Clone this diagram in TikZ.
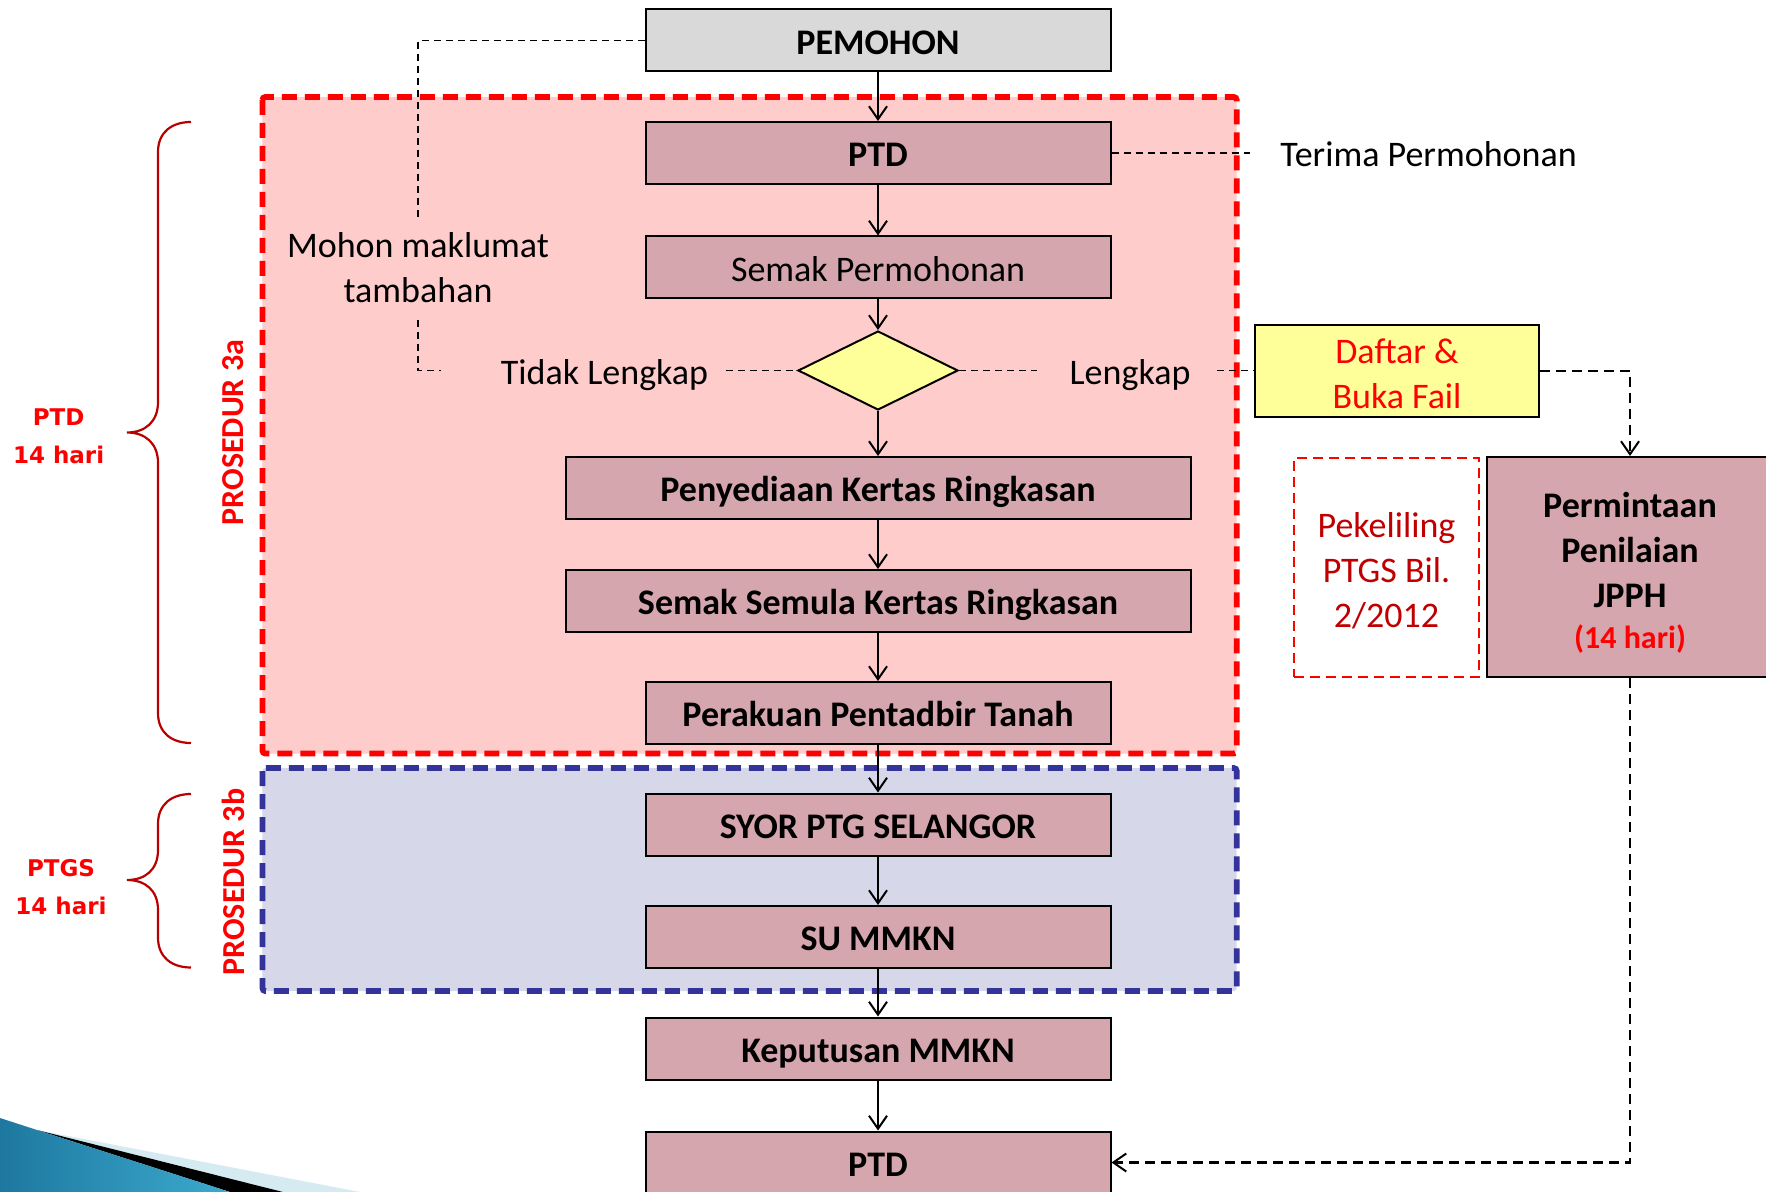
\documentclass[tikz,border=0pt]{standalone}
\usepackage{fontspec}
\setmainfont{Carlito}
\newfontfamily\vfont{DejaVu Sans}
\usetikzlibrary{arrows.meta,shapes.geometric}
\definecolor{boxfill}{RGB}{213,166,173}
\definecolor{pemfill}{RGB}{217,217,217}
\definecolor{yelfill}{RGB}{255,255,153}
\definecolor{pinkbg}{RGB}{255,204,204}
\definecolor{lavbg}{RGB}{214,216,234}
\definecolor{blueline}{RGB}{51,51,153}
\definecolor{darkred}{RGB}{192,0,0}
\definecolor{bracecol}{RGB}{185,0,0}
\definecolor{decoA}{RGB}{30,120,160}
\definecolor{decoB}{RGB}{60,170,205}
\definecolor{decoL}{RGB}{214,234,242}
\begin{document}
\begin{tikzpicture}[x=0.5pt,y=-0.5pt,
  oneline/.style={text height=15.5pt, text depth=1.8pt},
  box/.style={draw=black, line width=1pt, fill=boxfill, inner sep=0pt,
    minimum height=31pt, text=black, font=\fontsize{18}{22.5}\selectfont\bfseries},
  mainw/.style={minimum width=232.5pt, oneline},
  widew/.style={minimum width=312.5pt, oneline},
  lbl/.style={inner sep=0pt, font=\fontsize{18}{22.5}\selectfont, align=center},
  arr/.style={line width=1pt, -{Straight Barb[length=6.5pt,width=9pt,line width=1pt]}},
  dline/.style={line width=0.85pt, dash pattern=on 3.5pt off 2.5pt},
  darr/.style={line width=1.2pt, dash pattern=on 5pt off 3pt,
    -{Straight Barb[length=6.5pt,width=9pt,line width=1pt]}},
  regred/.style={draw=red, fill=pinkbg, line width=2.9pt, dash pattern=on 7.5pt off 4pt, rounded corners=1.5pt},
  regblue/.style={draw=blueline, fill=lavbg, line width=2.9pt, dash pattern=on 7.5pt off 4pt, rounded corners=1.5pt},
  bracestyle/.style={draw=bracecol, line width=1.1pt},
  sidelbl/.style={inner sep=0pt, align=center, text=red, font=\vfont\fontsize{11.5}{19}\selectfont\bfseries},
  proslbl/.style={inner sep=0pt, rotate=90, text=red, font=\fontsize{16}{19}\selectfont\bfseries}
]
\useasboundingbox (0,0) rectangle (1766,1192);

% decoration bottom-left
\fill[decoL] (37,1130) -- (360,1192) -- (283,1192) -- cycle;
\fill[black] (37,1130) -- (283,1192) -- (230,1192) -- cycle;
\shade[left color=decoA, right color=decoB] (0,1118) -- (37,1130) -- (230,1192) -- (0,1192) -- cycle;

% regions
\path[regred] (262.4,97) rectangle (1236.7,753.5);
\path[regblue] (262.4,768) rectangle (1236.7,991);

% braces
\draw[bracestyle] (191,122) .. controls (172,122) and (158,132) .. (158,152) -- (158,402)
  .. controls (158,422) and (145,432.5) .. (127,432.5)
  .. controls (145,432.5) and (158,443) .. (158,463) -- (158,713)
  .. controls (158,733) and (172,743) .. (191,743);
\draw[bracestyle] (191,794) .. controls (172,794) and (158,804) .. (158,824) -- (158,850)
  .. controls (158,870) and (145,880) .. (127,880)
  .. controls (145,880) and (158,890) .. (158,910) -- (158,937.5)
  .. controls (158,957.5) and (172,967.5) .. (191,967.5);

\node[sidelbl] (lptd) at (58.6,436.5) {PTD\\14 hari};
\node[sidelbl] (lptgs) at (61,887) {PTGS\\14 hari};
\node[proslbl] (p3a) at (233,432.5) {PROSEDUR 3a};
\node[proslbl] (p3b) at (233,882) {PROSEDUR 3b};

% main column
\node[box, mainw, fill=pemfill] (pem) at (878,40.5) {PEMOHON};
\node[box, mainw] (ptd1) at (878,153) {PTD};
\node[box, mainw, font=\fontsize{18}{22.5}\selectfont] (semak) at (878,267.5) {Semak Permohonan};
\node[draw=black, line width=1pt, fill=yelfill, diamond, aspect=2, inner sep=0pt,
  minimum width=80pt, minimum height=39.5pt] (dia) at (878,370.5) {};
\node[box, widew] (peny) at (878,488) {Penyediaan Kertas Ringkasan};
\node[box, widew] (semula) at (878,601) {Semak Semula Kertas Ringkasan};
\node[box, mainw] (perak) at (878,713) {Perakuan Pentadbir Tanah};
\node[box, mainw] (syor) at (878,824.5) {SYOR PTG SELANGOR};
\node[box, mainw] (su) at (878,937) {SU MMKN};
\node[box, mainw] (kep) at (878,1048.5) {Keputusan MMKN};
\node[box, mainw] (ptd2) at (878,1162.5) {PTD};

% right side
\node[lbl, draw=black, line width=1pt, fill=yelfill, text=red,
  minimum width=141.75pt, minimum height=45.75pt] (daftar) at (1397,371) {\rule{0pt}{15pt}Daftar \&\\Buka Fail};
\node[box, align=center, minimum width=143pt, minimum height=110pt] (perm) at (1630,567)
  {\rule{0pt}{18.5pt}Permintaan\\Penilaian\\JPPH\\[-2pt]{\fontsize{16}{20}\selectfont\color{red}(14 hari)}};
\node[lbl, draw=red, line width=1.3pt, dash pattern=on 5pt off 3pt, text=darkred,
  minimum width=92.5pt, minimum height=109.5pt] (pek) at (1386.5,567.5) {\rule{0pt}{15.5pt}Pekeliling\\PTGS Bil.\\2/2012};

% labels
\node[lbl, oneline, anchor=west] (term) at (1280,153) {Terima Permohonan};
\node[lbl, oneline] (tidak) at (604.5,370.5) {Tidak Lengkap};
\node[lbl, oneline] (lengkap) at (1130,370.5) {Lengkap};
\node[lbl] (mohon) at (418,268) {Mohon maklumat\\tambahan};

% solid arrows
\draw[arr] (pem) -- (ptd1);
\draw[arr] (ptd1) -- (semak);
\draw[arr] (semak) -- (dia);
\draw[arr] (dia) -- (peny);
\draw[arr] (peny) -- (semula);
\draw[arr] (semula) -- (perak);
\draw[arr] (perak) -- (syor);
\draw[arr] (syor) -- (su);
\draw[arr] (su) -- (kep);
\draw[arr] (kep) -- (ptd2);

% dashed connectors
\draw[dline, shorten >=15pt] (ptd1.east) -- (term.west);
\draw[dline, shorten <=8.5pt] (tidak.east) -- (dia.west);
\draw[dline, shorten >=16pt] (dia.east) -- (lengkap.west);
\draw[dline, shorten <=13pt] (lengkap.east) -- (lengkap.east -| daftar.west);
\draw[dline, shorten >=7pt] (pem.west) -| (mohon.north);
\draw[dline, shorten <=8pt, shorten >=29.5pt] (mohon.south) |- (tidak.west);

% dashed arrows
\draw[darr] (daftar.east) -| (perm.north);
\draw[darr] (perm.south) |- (ptd2.east);
\end{tikzpicture}
\end{document}
